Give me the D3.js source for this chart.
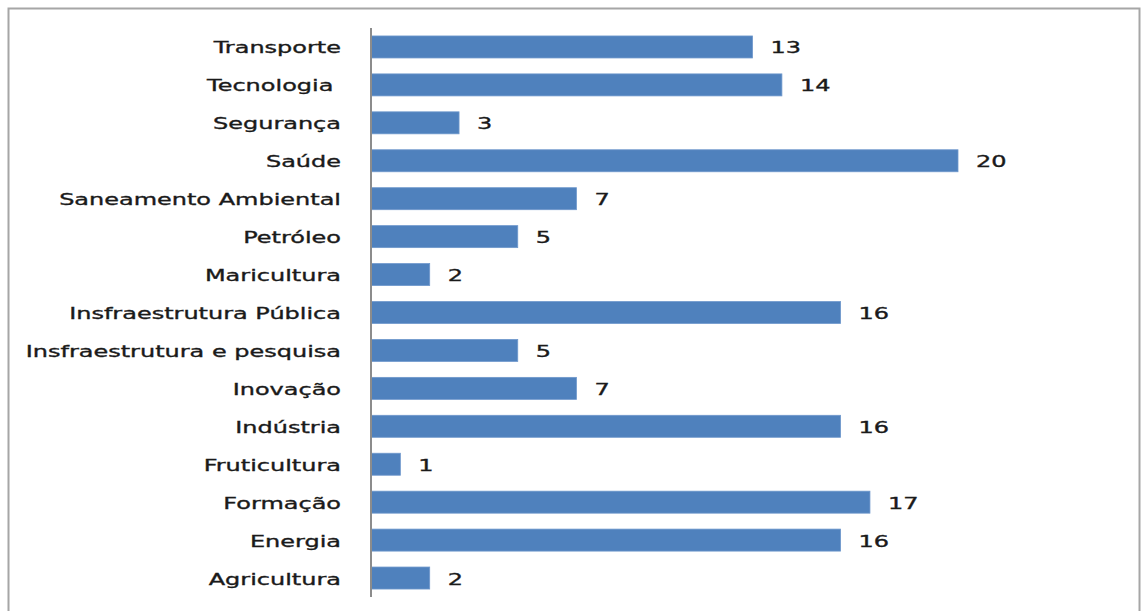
<!DOCTYPE html>
<html>
<head>
<meta charset="utf-8">
<script src="https://cdn.jsdelivr.net/npm/d3@7"></script>
<style>
  html, body { margin: 0; padding: 0; background: #fff; }
  svg { display: block; }
  text { font-family: "DejaVu Sans", Verdana, sans-serif; fill: #1a1a1a; white-space: pre; }
</style>
</head>
<body>
<svg id="chart" width="1141" height="611"></svg>
<script>
// Projects per area
const categories = [
  "Transporte", "Tecnologia ", "Segurança", "Saúde", "Saneamento Ambiental",
  "Petróleo", "Maricultura", "Insfraestrutura Pública", "Insfraestrutura e pesquisa",
  "Inovação", "Indústria", "Fruticultura", "Formação", "Energia", "Agricultura"
];
const values = [13, 14, 3, 20, 7, 5, 2, 16, 5, 7, 16, 1, 17, 16, 2];

const svg = d3.select("#chart");

// outer chart frame
svg.append("rect")
  .attr("x", 8.5).attr("y", 8.5)
  .attr("width", 1131).attr("height", 620)
  .attr("fill", "none").attr("stroke", "#a6a6a6").attr("stroke-width", 2);

const x0 = 371;
const x = d3.scaleLinear().domain([0, 20]).range([x0, 958]);
const y = d3.scaleBand().domain(categories).range([28, 597]).paddingInner(0.42).paddingOuter(0.21);

const labelStretch = 1.5;
const fontSize = 16;

// bars
svg.append("g").selectAll("rect")
  .data(values)
  .join("rect")
  .attr("x", x(0))
  .attr("y", (d, i) => y(categories[i]))
  .attr("width", d => x(d) - x(0))
  .attr("height", y.bandwidth())
  .attr("fill", "#4f81bd")
  .attr("stroke", "#6f98cc")
  .attr("stroke-width", 0.8);

// category axis
const axis = d3.axisLeft(y).tickSize(0).tickPadding(0);
const gAxis = svg.append("g").attr("transform", `translate(${x0},0)`).call(axis);
gAxis.select(".domain").attr("stroke", "#8c8c8c").attr("stroke-width", 2).attr("d", "M0,28V597");
gAxis.selectAll(".tick text")
  .attr("x", null)
  .attr("dy", null)
  .attr("text-anchor", "end")
  .attr("dominant-baseline", "central")
  .attr("font-size", fontSize)
  .attr("font-family", "DejaVu Sans, Verdana, sans-serif")
  .attr("fill", "#1a1a1a")
  .attr("stroke", "#1a1a1a")
  .attr("stroke-width", 0.35)
  .attr("transform", `translate(-30,1) scale(${labelStretch},1)`);

// value labels
svg.append("g").selectAll("text")
  .data(values)
  .join("text")
  .attr("transform", (d, i) => `translate(${x(d) + 18},${y(categories[i]) + y.bandwidth() / 2 + 1}) scale(${labelStretch},1)`)
  .attr("dominant-baseline", "central")
  .attr("font-size", fontSize)
  .attr("stroke", "#1a1a1a")
  .attr("stroke-width", 0.35)
  .text(d => d);
</script>
</body>
</html>
